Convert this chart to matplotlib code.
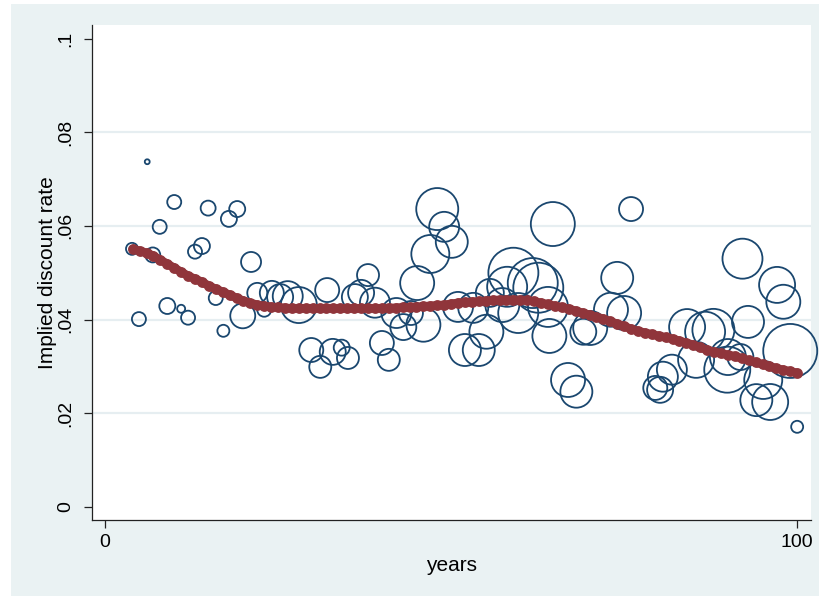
import numpy as np
import matplotlib
matplotlib.use("Agg")
import matplotlib.pyplot as plt
from matplotlib.patches import Rectangle

plt.rcParams['font.family'] = ['Liberation Sans', 'DejaVu Sans']

# Observed implied discount rates by maturity (years), with bubble weights
obs_years = [3.9, 6.1, 4.9, 6.9, 7.9, 10.0, 9.0, 11.0, 12.0, 13.0, 14.0, 14.9, 16.0, 17.1,
             17.9, 19.1, 19.9, 21.1, 22.0, 23.0, 24.1, 25.3, 26.4, 28.0, 29.8, 31.1, 32.1,
             32.9, 34.2, 35.1, 36.1, 37.0, 38.0, 39.0, 40.0, 41.0, 42.1, 43.1, 44.2, 45.1,
             46.0, 47.0, 48.0, 49.0, 50.1, 51.0, 52.0, 53.2, 54.0, 55.1, 55.6, 57.4, 58.1,
             59.0, 59.7, 61.8, 62.6, 64.0, 64.2, 64.7, 66.9, 68.1, 69.1, 70.1, 73.1, 74.0,
             75.0, 76.0, 79.5, 80.2, 80.6, 81.9, 84.1, 85.4, 86.7, 87.9, 89.9, 90.0, 91.8,
             92.1, 92.9, 94.1, 95.1, 96.1, 97.1, 98.0, 99.0, 100.0]
obs_rates = [0.0551, 0.0737, 0.0401, 0.0538, 0.0598, 0.0651, 0.0429, 0.0423, 0.0404, 0.0545,
             0.0557, 0.0638, 0.0446, 0.0376, 0.0615, 0.0636, 0.0408, 0.0523, 0.0457, 0.0421,
             0.0457, 0.0448, 0.0450, 0.0431, 0.0335, 0.0299, 0.0463, 0.0331, 0.0340, 0.0318,
             0.0448, 0.0457, 0.0495, 0.0436, 0.0350, 0.0314, 0.0414, 0.0384, 0.0414, 0.0478,
             0.0389, 0.0540, 0.0636, 0.0598, 0.0566, 0.0427, 0.0335, 0.0425, 0.0335, 0.0374,
             0.0457, 0.0431, 0.0470, 0.0500, 0.0414, 0.0478, 0.0468, 0.0427, 0.0365, 0.0604,
             0.0271, 0.0246, 0.0374, 0.0382, 0.0421, 0.0489, 0.0414, 0.0636, 0.0254, 0.0250,
             0.0278, 0.0293, 0.0384, 0.0314, 0.0374, 0.0378, 0.0293, 0.0320, 0.0320, 0.0530,
             0.0395, 0.0228, 0.0271, 0.0224, 0.0474, 0.0438, 0.0333, 0.0171]
obs_weights = [36, 6, 49, 56, 49, 49, 64, 16, 49, 49, 64, 56, 49, 36, 64, 64, 156, 100, 100,
               49, 144, 169, 225, 324, 144, 121, 144, 169, 64, 121, 169, 169, 121, 225, 144,
               121, 225, 169, 144, 289, 289, 361, 441, 225, 256, 225, 256, 225, 256, 289, 196,
               289, 400, 625, 400, 625, 625, 400, 289, 484, 289, 256, 169, 289, 289, 256, 289,
               144, 144, 169, 225, 225, 324, 324, 400, 441, 529, 324, 169, 400, 256, 256, 361,
               324, 324, 289, 729, 36]

# Smoothed fit evaluated at each whole year
fit_years = list(range(4, 101))
fit_rates = [0.05509, 0.05467, 0.05424, 0.05360, 0.05274, 0.05189, 0.05104, 0.05018, 0.04933,
             0.04869, 0.04805, 0.04719, 0.04655, 0.04591, 0.04527, 0.04463, 0.04399, 0.04356,
             0.04313, 0.04292, 0.04271, 0.04260, 0.04249, 0.04239, 0.04239, 0.04239, 0.04239,
             0.04239, 0.04239, 0.04239, 0.04239, 0.04239, 0.04239, 0.04239, 0.04239, 0.04239,
             0.04239, 0.04249, 0.04249, 0.04260, 0.04260, 0.04271, 0.04281, 0.04292, 0.04303,
             0.04313, 0.04335, 0.04356, 0.04367, 0.04378, 0.04388, 0.04399, 0.04410, 0.04420,
             0.04420, 0.04420, 0.04420, 0.04410, 0.04388, 0.04356, 0.04324, 0.04292, 0.04260,
             0.04228, 0.04185, 0.04143, 0.04100, 0.04057, 0.04015, 0.03961, 0.03908, 0.03854,
             0.03801, 0.03758, 0.03716, 0.03684, 0.03651, 0.03619, 0.03587, 0.03545, 0.03502,
             0.03459, 0.03406, 0.03353, 0.03310, 0.03278, 0.03246, 0.03214, 0.03171, 0.03128,
             0.03086, 0.03043, 0.03000, 0.02958, 0.02925, 0.02893, 0.02861]

y_ticks = [0, 0.02, 0.04, 0.06, 0.08, 0.1]
y_tick_labels = ["0", ".02", ".04", ".06", ".08", ".1"]
x_ticks = [0, 100]
x_tick_labels = ["0", "100"]

W, H = 819, 596
fig = plt.figure(figsize=(W / 100, H / 100), dpi=100, facecolor="white")

# Graph region panel, drawn beneath the axes
fig.patches.append(Rectangle((11 / W, 0), (W - 11) / W, (H - 4) / H,
                             transform=fig.transFigure, facecolor="#EAF2F3",
                             edgecolor="none", zorder=-10))

ax = fig.add_axes([92 / W, (H - 520) / H, (811 - 92) / W, (520 - 25) / H])
ax.set_facecolor("white")
ax.set_xlim(-1.88, 102.0)
ax.set_ylim(-0.0028, 0.1029)

for gy in y_ticks[1:-1]:
    ax.axhline(gy, color="#E6EEF1", lw=1.6, zorder=0.5)

size_scale = (2 * 0.72) ** 2
ax.scatter(obs_years, obs_rates, s=np.array(obs_weights) * size_scale,
           facecolors="none", edgecolors="#1A476F", linewidths=1.3, zorder=2,
           clip_on=False)

ax.plot(fit_years, fit_rates, color="#90353B", lw=6.2, solid_capstyle="round", zorder=3)
ax.plot(fit_years, fit_rates, linestyle="none", marker="o", markersize=7.8,
        color="#90353B", markeredgewidth=0, zorder=3)

for side in ("top", "right"):
    ax.spines[side].set_visible(False)
for side in ("left", "bottom"):
    ax.spines[side].set_color("#222222")
    ax.spines[side].set_linewidth(0.9)

ax.set_yticks(y_ticks)
ax.set_yticklabels(y_tick_labels, rotation=90, va="center", fontsize=14)
ax.set_xticks(x_ticks)
ax.set_xticklabels(x_tick_labels, fontsize=14)
ax.tick_params(axis="both", direction="out", length=5.8, width=0.9, color="#222222")
ax.tick_params(axis="y", pad=7)
ax.tick_params(axis="x", pad=4)

ax.set_xlabel("years", fontsize=15, labelpad=4)
ax.set_ylabel("Implied discount rate", fontsize=15, labelpad=0)

fig.savefig("out.png", dpi=100, facecolor=fig.get_facecolor())
